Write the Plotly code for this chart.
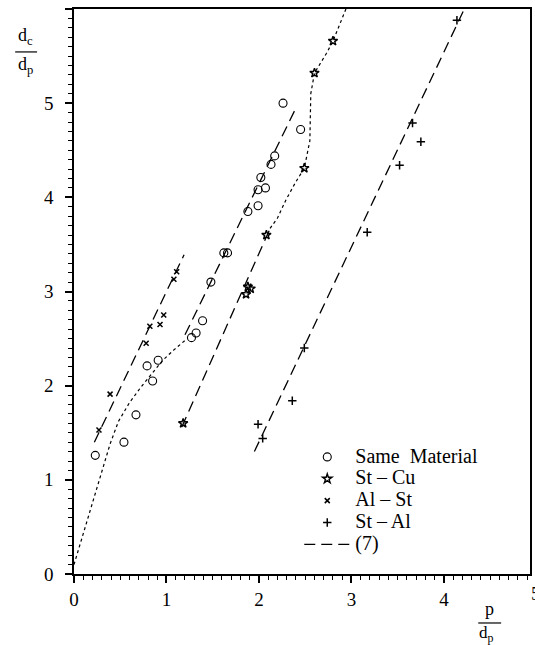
import plotly.graph_objects as go

# ---- measured points: crater diameter ratio d_c/d_p vs. p/d_p ----
same_x = [0.23, 0.54, 0.67, 0.85, 0.79, 0.91, 1.27, 1.32, 1.39, 1.48, 1.62, 1.66,
          1.88, 1.99, 1.99, 2.07, 2.02, 2.13, 2.17, 2.26, 2.45]
same_y = [1.26, 1.40, 1.69, 2.05, 2.21, 2.27, 2.51, 2.56, 2.69, 3.10, 3.41, 3.41,
          3.85, 3.91, 4.08, 4.10, 4.21, 4.35, 4.44, 5.00, 4.72]

stcu_x = [1.18, 1.86, 1.88, 1.91, 2.08, 2.49, 2.60, 2.80]
stcu_y = [1.60, 2.97, 3.05, 3.03, 3.60, 4.31, 5.32, 5.66]

alst_x = [0.27, 0.39, 0.78, 0.82, 0.93, 0.97, 1.08, 1.11]
alst_y = [1.53, 1.91, 2.45, 2.63, 2.65, 2.75, 3.13, 3.21]

stal_x = [1.99, 2.04, 2.36, 2.49, 3.17, 3.52, 3.66, 3.75, 4.14]
stal_y = [1.59, 1.44, 1.84, 2.40, 3.63, 4.34, 4.79, 4.59, 5.88]

# ---- straight lines of Eq. (7), one segment per material pair ----
eq7_x = [0.22, 1.19, None, 1.20, 2.40, None, 1.165, 2.12, None, 1.95, 4.22]
eq7_y = [1.40, 3.39, None, 2.54, 4.95, None, 1.56, 3.67, None, 1.30, 6.00]

# ---- dotted trend curves ----
trend_same_x = [0.00, 0.13, 0.26, 0.39, 0.48, 0.60, 0.72, 0.84, 0.96, 1.08, 1.20]
trend_same_y = [0.10, 0.52, 0.95, 1.38, 1.62, 1.82, 1.98, 2.12, 2.27, 2.38, 2.48]

trend_stcu_x = [2.12, 2.20, 2.29, 2.39, 2.49, 2.53, 2.55, 2.555, 2.56, 2.60, 2.73, 2.80, 2.94]
trend_stcu_y = [3.67, 3.78, 3.97, 4.15, 4.31, 4.48, 4.60, 4.85, 5.10, 5.32, 5.53, 5.66, 6.00]

x_ticks = [0, 1, 2, 3, 4]
y_ticks = [0, 1, 2, 3, 4, 5, 6]

SERIF = "Liberation Serif"
INK = "black"


def legend_name(text):
    # larger glyphs than the legend font, so rows stay compact
    return "<span style='font-size:20px'>" + text + "</span>"


fig = go.Figure()

fig.add_trace(go.Scatter(x=trend_same_x, y=trend_same_y, mode="lines",
                         line=dict(color=INK, width=1.2, dash="dot"),
                         showlegend=False, hoverinfo="skip"))
fig.add_trace(go.Scatter(x=trend_stcu_x, y=trend_stcu_y, mode="lines",
                         line=dict(color=INK, width=1.2, dash="dot"),
                         showlegend=False, hoverinfo="skip"))

fig.add_trace(go.Scatter(x=same_x, y=same_y, mode="markers",
                         name=legend_name("Same  Material"),
                         marker=dict(symbol="circle-open", size=8, color=INK,
                                     line=dict(width=1.1, color=INK))))
fig.add_trace(go.Scatter(x=stcu_x, y=stcu_y, mode="markers",
                         name=legend_name("St – Cu"),
                         marker=dict(symbol="star-open", size=7, color=INK,
                                     line=dict(width=1.4, color=INK))))
fig.add_trace(go.Scatter(x=alst_x, y=alst_y, mode="markers",
                         name=legend_name("Al – St"),
                         marker=dict(symbol="x-thin-open", size=5, color=INK,
                                     line=dict(width=1.5, color=INK))))
fig.add_trace(go.Scatter(x=stal_x, y=stal_y, mode="markers",
                         name=legend_name("St – Al"),
                         marker=dict(symbol="cross-thin-open", size=6, color=INK,
                                     line=dict(width=1.5, color=INK))))
fig.add_trace(go.Scatter(x=eq7_x, y=eq7_y, mode="lines",
                         name=legend_name("(7)"),
                         line=dict(color=INK, width=1.3, dash="11px,6px")))

axis_common = dict(
    showline=True, linecolor=INK, linewidth=1.5, mirror=True,
    ticks="outside", ticklen=7, tickwidth=1.5, tickcolor=INK,
    minor=dict(dtick=0.1, ticks="outside", ticklen=4, tickwidth=1.2, tickcolor=INK),
    showgrid=False, zeroline=False,
    tickfont=dict(family=SERIF, size=19, color=INK),
    fixedrange=True,
)

fig.update_xaxes(range=[0, 4.93], tickvals=x_ticks, ticklabelstandoff=0, **axis_common)
fig.update_yaxes(range=[0, 6], tickvals=y_ticks, ticklabelstandoff=8, **axis_common)

annotations = [
    # x-axis label 5, sitting at the right edge of the axis
    dict(text="5", x=5 / 4.93, y=0, xref="paper", yref="paper", xanchor="center",
         yanchor="top", yshift=-7, showarrow=False,
         font=dict(family=SERIF, size=19, color=INK)),
    # y-axis title d_c / d_p
    dict(text="d<sub>c</sub>", x=-0.106, y=0.927, xref="paper", yref="paper",
         xanchor="center", yanchor="bottom", showarrow=False,
         font=dict(family=SERIF, size=18, color=INK)),
    dict(text="d<sub>p</sub>", x=-0.106, y=0.924, xref="paper", yref="paper",
         xanchor="center", yanchor="top", showarrow=False,
         font=dict(family=SERIF, size=18, color=INK)),
    # x-axis title p / d_p
    dict(text="p", x=0.912, y=-0.084, xref="paper", yref="paper",
         xanchor="center", yanchor="bottom", showarrow=False,
         font=dict(family=SERIF, size=18, color=INK)),
    dict(text="d<sub>p</sub>", x=0.905, y=-0.084, xref="paper", yref="paper",
         xanchor="center", yanchor="top", showarrow=False,
         font=dict(family=SERIF, size=17, color=INK)),
]

shapes = [
    dict(type="line", xref="paper", yref="paper", x0=-0.129, x1=-0.081,
         y0=0.924, y1=0.924, line=dict(color=INK, width=1.2)),
    dict(type="line", xref="paper", yref="paper", x0=0.8865, x1=0.9367,
         y0=-0.0867, y1=-0.0867, line=dict(color=INK, width=1.2)),
]

fig.update_layout(
    width=535, height=645,
    margin=dict(l=74, r=3, t=9, b=71),
    paper_bgcolor="white", plot_bgcolor="white",
    showlegend=True,
    legend=dict(x=0.494, y=0.2354, xanchor="left", yanchor="top",
                bgcolor="rgba(0,0,0,0)", itemwidth=46,
                font=dict(family=SERIF, size=14.5, color=INK),
                tracegroupgap=0),
    annotations=annotations,
    shapes=shapes,
)

fig.write_html("out.html")
